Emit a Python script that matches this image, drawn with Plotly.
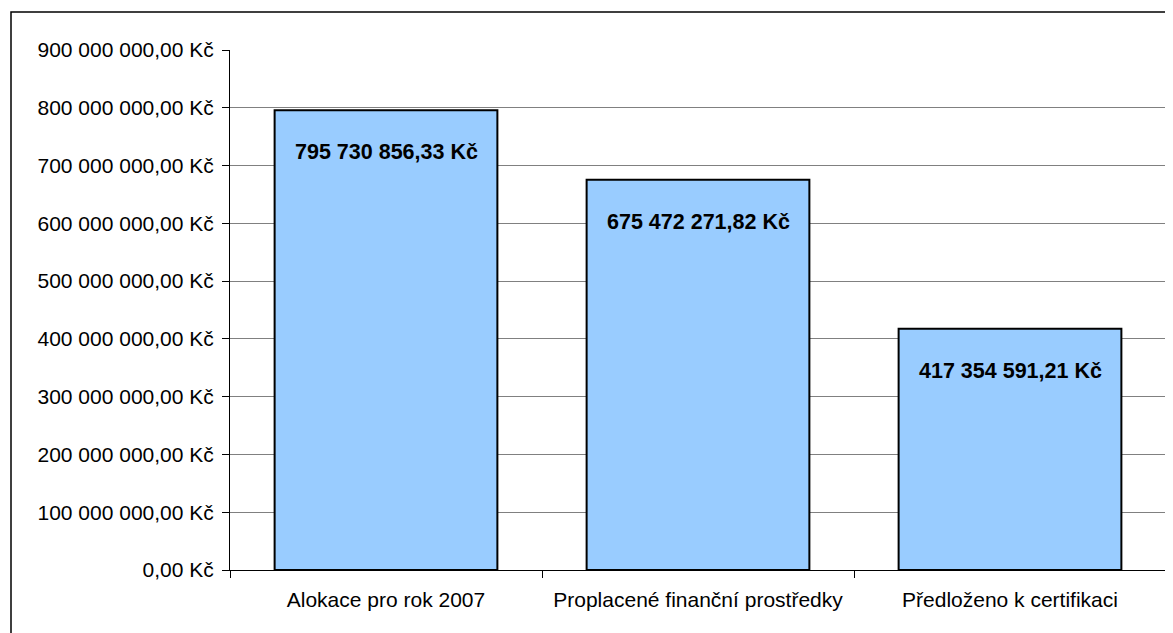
import plotly.graph_objects as go

categories = ["Alokace pro rok 2007", "Proplacené finanční prostředky", "Předloženo k certifikaci"]
values = [795730856.33, 675472271.82, 417354591.21]
value_labels = ["795 730 856,33 Kč", "675 472 271,82 Kč", "417 354 591,21 Kč"]
y_tick_vals = [0, 100e6, 200e6, 300e6, 400e6, 500e6, 600e6, 700e6, 800e6, 900e6]
y_tick_text = ["0,00 Kč", "100 000 000,00 Kč", "200 000 000,00 Kč", "300 000 000,00 Kč",
               "400 000 000,00 Kč", "500 000 000,00 Kč", "600 000 000,00 Kč",
               "700 000 000,00 Kč", "800 000 000,00 Kč", "900 000 000,00 Kč"]

# page body has an 8px default margin
W, H = 1165, 625
ML, MR, MT, MB = 222, 7, 42, 63
FONT = "Liberation Sans, Arial, sans-serif"

fig = go.Figure()
fig.add_trace(go.Bar(
    x=categories, y=values, width=0.714,
    marker=dict(color="#99CCFF", line=dict(color="#000000", width=2)),
    hoverinfo="skip",
))

for c, v, t in zip(categories, values, value_labels):
    fig.add_annotation(x=c, y=v, text="<b>" + t + "</b>", showarrow=False,
                       yshift=-42, yanchor="middle",
                       font=dict(family=FONT, size=21.5, color="#000000"))

pw = W - ML - MR
ph = H - MT - MB
fig.add_shape(type="rect", xref="paper", yref="paper",
              x0=(3 - ML) / pw, x1=2, y0=-1, y1=(H - MB - 4) / ph,
              line=dict(color="#000000", width=1.5), layer="below")

fig.update_layout(
    width=W, height=H,
    margin=dict(l=ML, r=MR, t=MT, b=MB),
    paper_bgcolor="#FFFFFF", plot_bgcolor="#FFFFFF",
    showlegend=False,
    font=dict(family=FONT, size=21, color="#000000"),
    xaxis=dict(
        type="category", showline=True, linecolor="#000000", linewidth=1,
        ticks="outside", tickson="boundaries", ticklen=7, tickcolor="#000000",
        showgrid=False, tickfont=dict(size=21), ticklabelstandoff=11,
    ),
    yaxis=dict(
        range=[0, 900e6], tickvals=y_tick_vals, ticktext=y_tick_text,
        showline=True, linecolor="#000000", linewidth=1,
        ticks="outside", ticklen=7, tickcolor="#000000",
        showgrid=True, gridcolor="#808080", gridwidth=1,
        zeroline=False, tickfont=dict(size=21), ticklabelstandoff=4,
    ),
)

fig.write_html("out.html")
